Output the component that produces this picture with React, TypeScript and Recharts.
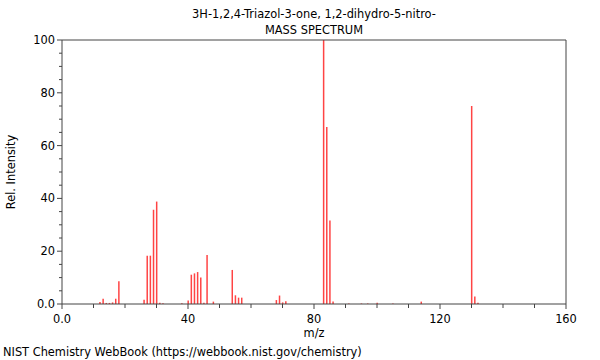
import React from 'react';
import { BarChart, Bar, XAxis, YAxis, ReferenceLine } from 'recharts';

// m/z values and relative intensities
const mzValues = [
  12, 13, 14, 15, 16, 17, 18, 26, 27, 28, 29, 30, 31, 32, 38, 40, 41, 42, 43, 44, 45, 46, 48,
  54, 55, 56, 57, 68, 69, 70, 71, 83, 84, 85, 86, 91, 95, 97, 100, 105, 114, 130, 131, 132,
];
const intensities = [
  0.8, 2.0, 0.4, 0.4, 0.6, 2.0, 8.6, 1.6, 18.3, 18.3, 35.7, 38.8, 0.5, 0.3, 0.3, 1.3, 11.1, 11.6, 12.1, 10.0, 0.5, 18.6, 0.9,
  12.9, 3.3, 2.4, 2.4, 1.5, 3.2, 0.6, 1.0, 100, 67, 31.6, 0.9, 0.2, 0.2, 0.2, 0.5, 0.2, 0.9, 75, 2.8, 0.5,
];

const xTicks = [0, 10, 20, 30, 40, 50, 60, 70, 80, 90, 100, 110, 120, 130, 140, 150, 160];
const xTickLabels: Record<number, string> = { 0: '0.0', 40: '40', 80: '80', 120: '120', 160: '160' };
const yTicks = [0, 5, 10, 15, 20, 25, 30, 35, 40, 45, 50, 55, 60, 65, 70, 75, 80, 85, 90, 95, 100];
const yTickLabels: Record<number, string> = { 0: '0.0', 20: '20', 40: '40', 60: '60', 80: '80', 100: '100' };

const title = '3H-1,2,4-Triazol-3-one, 1,2-dihydro-5-nitro-';
const subtitle = 'MASS SPECTRUM';
const footer = 'NIST Chemistry WebBook (https://webbook.nist.gov/chemistry)';

const data = mzValues.map((mz, i) => ({ mz, intensity: intensities[i] }));

const FONT = '"DejaVu Sans", sans-serif';
const AXIS = '#444';
const FS = 11.4;

const XTick = (props: any) => {
  const { x, y, payload } = props;
  const label = xTickLabels[payload.value];
  return (
    <g>
      <line x1={x} x2={x} y1={y} y2={y + (label ? 5 : 4)} stroke={AXIS} />
      {label && (
        <text x={x} y={y + 19} textAnchor="middle" fontSize={FS} fontFamily={FONT} fill="#000">
          {label}
        </text>
      )}
    </g>
  );
};

const YTick = (props: any) => {
  const { x, y, payload } = props;
  const label = yTickLabels[payload.value];
  return (
    <g>
      <line x1={x - (label ? 5 : 3)} x2={x} y1={y} y2={y} stroke={AXIS} />
      {label && (
        <text x={x - 7} y={y + 4} textAnchor="end" fontSize={FS} fontFamily={FONT} fill="#000">
          {label}
        </text>
      )}
    </g>
  );
};

const textStyle: React.CSSProperties = {
  position: 'absolute',
  fontFamily: FONT,
  fontSize: FS,
  color: '#000',
  whiteSpace: 'nowrap',
  lineHeight: '13px',
};

export default function App() {
  return (
    <div style={{ position: 'absolute', left: 0, top: 0, width: 600, height: 360, background: '#fff' }}>
      <BarChart width={600} height={360} data={data} margin={{ top: 40, right: 34, bottom: 30, left: 0 }}>
        <XAxis
          dataKey="mz"
          type="number"
          domain={[0, 160]}
          ticks={xTicks}
          interval={0}
          height={26}
          tickSize={0}
          tickMargin={0}
          tickLine={false}
          axisLine={{ stroke: AXIS }}
          tick={<XTick />}
        />
        <YAxis
          type="number"
          domain={[0, 100]}
          ticks={yTicks}
          interval={0}
          width={62}
          tickSize={0}
          tickMargin={0}
          tickLine={false}
          axisLine={{ stroke: AXIS }}
          tick={<YTick />}
        />
        <ReferenceLine y={100} stroke={AXIS} />
        <ReferenceLine x={160} stroke={AXIS} />
        <Bar dataKey="intensity" fill="#ff4444" barSize={1.5} isAnimationActive={false} />
      </BarChart>
      <div style={{ ...textStyle, left: 0, width: 628, top: 8, textAlign: 'center' }}>{title}</div>
      <div style={{ ...textStyle, left: 0, width: 628, top: 24, textAlign: 'center' }}>{subtitle}</div>
      <div style={{ ...textStyle, left: 0, width: 628, top: 327, textAlign: 'center' }}>m/z</div>
      <div
        style={{
          ...textStyle,
          left: 11,
          top: 172,
          transform: 'translate(-50%, -50%) rotate(-90deg)',
        }}
      >
        Rel. Intensity
      </div>
      <div style={{ ...textStyle, left: 3, top: 346 }}>{footer}</div>
    </div>
  );
}
